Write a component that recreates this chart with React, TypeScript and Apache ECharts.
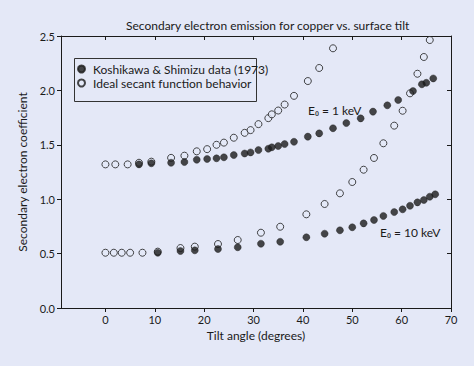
import React, { useEffect, useRef } from "react";
import * as echarts from "echarts";

const tickValues = [0, 10, 20, 30, 40, 50, 60, 70];

const dataName = "Koshikawa & Shimizu data (1973)";
const secantName = "Ideal secant function behavior";

const keV1Angles = [6.8, 9.3, 13.3, 16, 18.5, 20.6, 22.5, 24, 26, 28.2, 29.4, 31, 33, 33.7, 35, 36.3, 38.2, 41, 43.3, 46.1, 48.8, 51.7, 54.2, 57.1, 59.3, 62.3, 64.1, 65, 66.4];
const keV1Data = [1.32, 1.33, 1.335, 1.342, 1.363, 1.37, 1.376, 1.385, 1.406, 1.42, 1.43, 1.452, 1.464, 1.477, 1.489, 1.507, 1.528, 1.575, 1.605, 1.652, 1.7, 1.743, 1.805, 1.863, 1.912, 1.994, 2.056, 2.07, 2.11];

const keV1SecantAngles = [0, 2, 4.5, 6.8, 9.3, 13.3, 16, 18.5, 20.6, 22.5, 24, 26, 28.2, 29.4, 31, 33, 33.7, 35, 36.3, 38.2, 41, 43.3, 46.1];
const keV1Secant = [1.32, 1.32, 1.32, 1.335, 1.345, 1.38, 1.4, 1.44, 1.46, 1.5, 1.52, 1.565, 1.61, 1.635, 1.69, 1.745, 1.78, 1.815, 1.87, 1.95, 2.086, 2.206, 2.387];

const keV10Angles = [10.6, 15.2, 18.1, 22.8, 26.8, 31.5, 35.4, 40.7, 44.4, 47.5, 50, 52.3, 54.4, 56.3, 58.5, 60.2, 61.7, 63.2, 64.5, 65.7, 66.8];
const keV10Data = [0.508, 0.524, 0.53, 0.542, 0.558, 0.591, 0.609, 0.65, 0.683, 0.714, 0.742, 0.778, 0.809, 0.846, 0.882, 0.907, 0.94, 0.971, 0.993, 1.023, 1.045];

const keV10SecantAngles = [0, 1.7, 3.3, 5, 7.5, 10.6, 15.2, 18.1, 22.8, 26.8, 31.5, 35.4, 40.7, 44.4, 47.5, 50, 52.3, 54.4, 56.3, 58.5, 60.2, 61.7, 63.2, 64.5, 65.7];
const keV10Secant = [0.508, 0.508, 0.508, 0.508, 0.508, 0.518, 0.551, 0.564, 0.588, 0.625, 0.692, 0.747, 0.861, 0.956, 1.054, 1.158, 1.271, 1.379, 1.514, 1.676, 1.813, 1.973, 2.153, 2.307, 2.463];

const BG = "#e4e8f7";
const INK = "#1a1a1a";
const FONT = "Lato";

const zip = (xs: number[], ys: number[]) => xs.map((x, i) => [x, ys[i]]);

export default function App() {
  const ref = useRef<HTMLDivElement>(null);
  useEffect(() => {
    if (!ref.current) return;
    const chart = echarts.init(ref.current, undefined, { renderer: "svg" });
    const openStyle = { color: BG, borderColor: INK, borderWidth: 1 };
    const filledStyle = { color: INK, borderColor: INK, borderWidth: 0.5 };
    const axisLine = { show: true, onZero: false, lineStyle: { color: INK, width: 1 } };
    chart.setOption({
      animation: false,
      backgroundColor: BG,
      textStyle: { fontFamily: FONT },
      title: {
        text: "Secondary electron emission for copper vs. surface tilt",
        left: 121,
        top: 14,
        textStyle: { fontSize: 12, fontWeight: "normal", color: INK, fontFamily: FONT },
      },
      legend: {
        data: [dataName, secantName],
        orient: "vertical",
        left: 72,
        top: 56,
        padding: [7, 4, 6, 5],
        itemGap: 2,
        itemWidth: 7,
        itemHeight: 7,
        icon: "circle",
        textStyle: { fontSize: 12, color: INK, fontFamily: FONT, padding: [0, 0, 0, 3] },
      },
      grid: { left: 61, right: 23, top: 36, bottom: 58 },
      xAxis: [
        {
          type: "value",
          min: -9,
          max: 70,
          position: "bottom",
          axisLine,
          axisTick: { show: true, length: 4, customValues: tickValues, lineStyle: { color: INK } },
          axisLabel: { customValues: tickValues, fontSize: 11, color: INK, margin: 6 },
          splitLine: { show: false },
          name: "Tilt angle (degrees)",
          nameLocation: "middle",
          nameGap: 20,
          nameTextStyle: { fontSize: 12, color: INK },
        },
        {
          type: "value",
          min: -9,
          max: 70,
          position: "top",
          axisLine,
          axisTick: { show: true, inside: true, length: 4, customValues: tickValues, lineStyle: { color: INK } },
          axisLabel: { show: false },
          splitLine: { show: false },
        },
      ],
      yAxis: [
        {
          type: "value",
          min: 0,
          max: 2.5,
          interval: 0.5,
          position: "left",
          axisLine,
          axisTick: { show: true, length: 4, lineStyle: { color: INK } },
          axisLabel: { fontSize: 11, color: INK, margin: 6, formatter: (v: number) => v.toFixed(1) },
          splitLine: { show: false },
          name: "Secondary electron coefficient",
          nameLocation: "middle",
          nameGap: 33,
          nameTextStyle: { fontSize: 12, color: INK },
        },
        {
          type: "value",
          min: 0,
          max: 2.5,
          interval: 0.5,
          position: "right",
          axisLine,
          axisTick: { show: true, inside: true, length: 4, lineStyle: { color: INK } },
          axisLabel: { show: false },
          splitLine: { show: false },
        },
      ],
      series: [
        { name: secantName, type: "scatter", symbol: "circle", symbolSize: 7, itemStyle: openStyle, data: zip(keV1SecantAngles, keV1Secant) },
        { name: secantName, type: "scatter", symbol: "circle", symbolSize: 7, itemStyle: openStyle, data: zip(keV10SecantAngles, keV10Secant) },
        { name: dataName, type: "scatter", symbol: "circle", symbolSize: 7, itemStyle: filledStyle, data: zip(keV1Angles, keV1Data) },
        { name: dataName, type: "scatter", symbol: "circle", symbolSize: 7, itemStyle: filledStyle, data: zip(keV10Angles, keV10Data) },
      ],
      graphic: [
        {
          type: "rect",
          left: 72,
          top: 56,
          shape: { width: 182, height: 43 },
          style: { fill: "none", stroke: "#333", lineWidth: 1 },
        },
        {
          type: "text",
          left: 308,
          top: 104,
          style: { text: "E\u2080 = 1 keV", fontSize: 12, fill: INK, fontFamily: FONT },
        },
        {
          type: "text",
          left: 380,
          top: 226,
          style: { text: "E\u2080 = 10 keV", fontSize: 12, fill: INK, fontFamily: FONT },
        },
      ],
    });
    return () => chart.dispose();
  }, []);
  return <div ref={ref} style={{ position: "fixed", left: 0, top: 0, width: 474, height: 366 }} />;
}
